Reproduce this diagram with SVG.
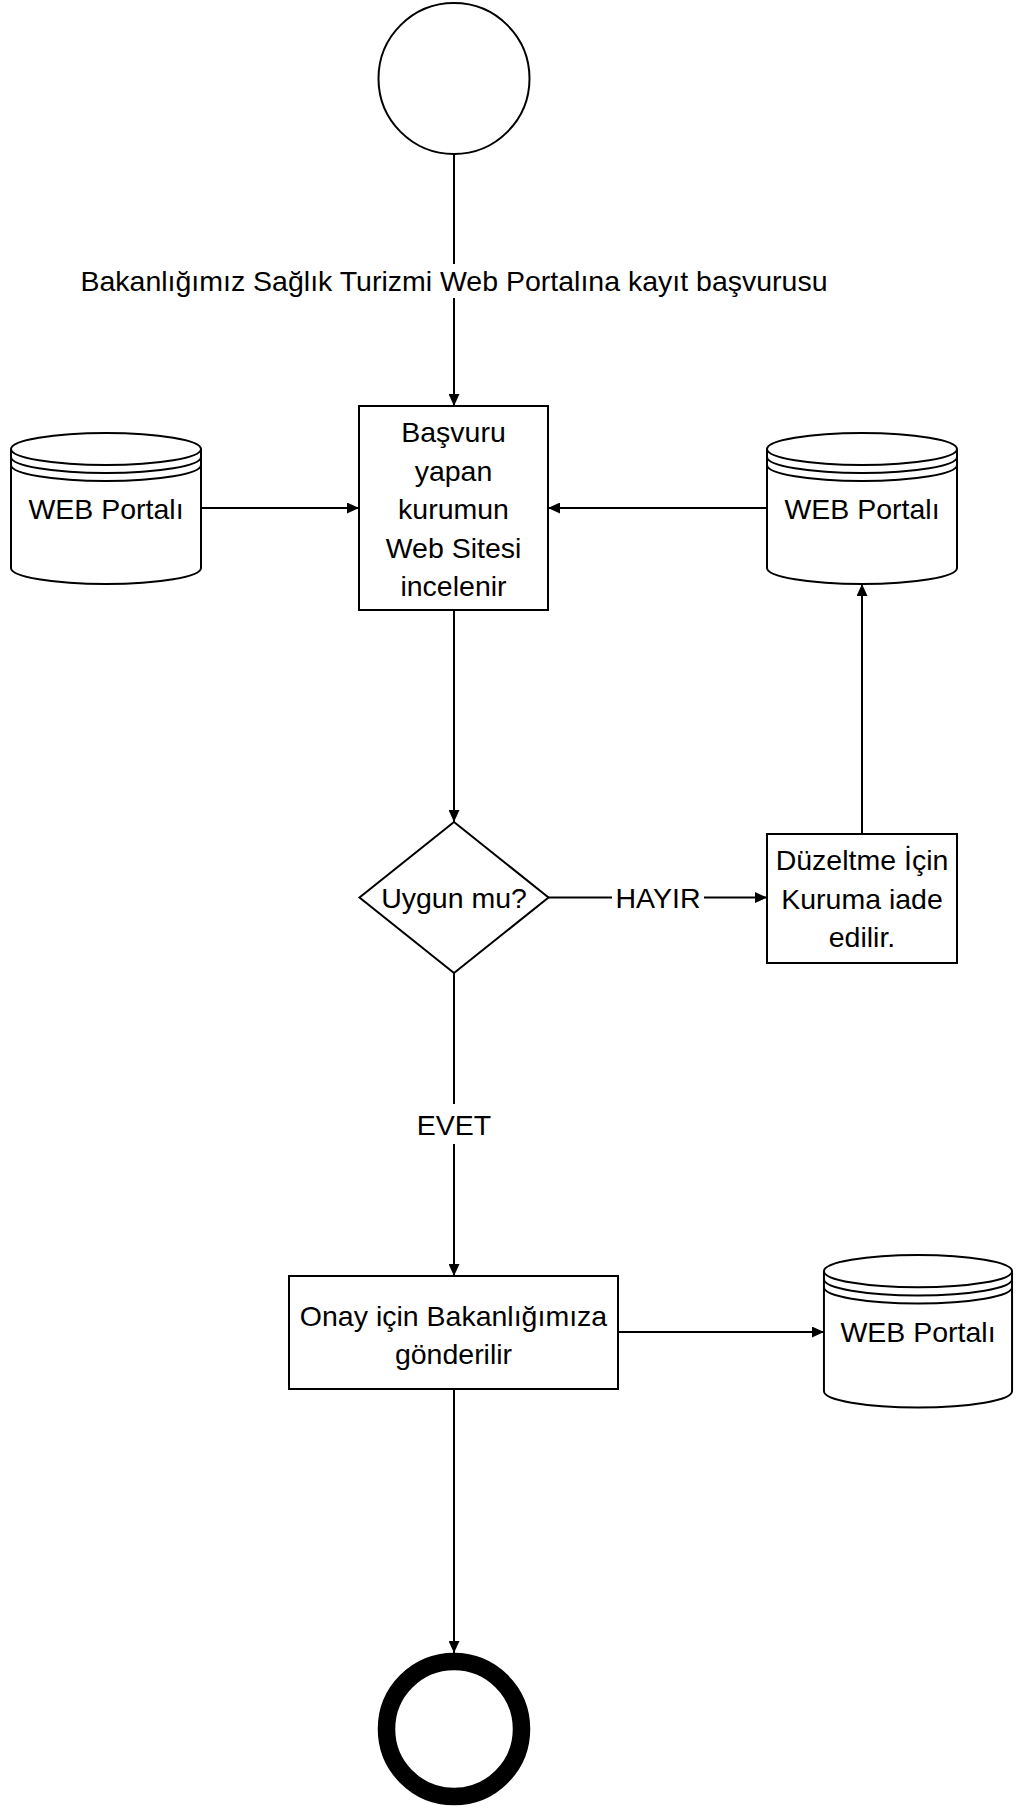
<svg xmlns="http://www.w3.org/2000/svg" width="1022" height="1810" viewBox="0 0 1022 1810">
<style>
.s{fill:#fff;stroke:#000;stroke-width:2}
.c{fill:none;stroke:#000;stroke-width:2}
.t{font-family:"Liberation Sans",Arial,sans-serif;font-size:28.5px;fill:#000;text-anchor:middle}
.bg{fill:#fff;stroke:none}
</style>
<defs>
<marker id="ah" markerWidth="12" markerHeight="11" refX="12" refY="5.5" orient="auto" markerUnits="userSpaceOnUse">
<path d="M0,0 L12,5.5 L0,11 z" fill="#000"/>
</marker>
<g id="cyl">
<path class="s" d="M-95,16 A95,16 0 0 1 95,16 L95,135 A95,16 0 0 1 -95,135 Z"/>
<path class="c" d="M-95,16 A95,16 0 0 0 95,16 M-95,24 A95,16 0 0 0 95,24 M-95,32 A95,16 0 0 0 95,32"/>
</g>
</defs>
<rect width="1022" height="1810" fill="#fff"/>

<g id="connectors">
<path class="c" d="M454,154 L454,406" marker-end="url(#ah)"/>
<rect class="bg" x="78" y="264" width="752" height="34"/>
<text class="t" x="454" y="291">Bakanlığımız Sağlık Turizmi Web Portalına kayıt başvurusu</text>
<path class="c" d="M201,508 L359,508" marker-end="url(#ah)"/>
<path class="c" d="M767,508 L548,508" marker-end="url(#ah)"/>
<path class="c" d="M454,610 L454,822" marker-end="url(#ah)"/>
<path class="c" d="M548,897.5 L767,897.5" marker-end="url(#ah)"/>
<rect class="bg" x="612" y="882" width="92" height="32"/>
<text class="t" x="658" y="908">HAYIR</text>
<path class="c" d="M862,834 L862,584" marker-end="url(#ah)"/>
<path class="c" d="M454,973 L454,1276" marker-end="url(#ah)"/>
<rect class="bg" x="410" y="1104" width="88" height="40"/>
<text class="t" x="454" y="1135">EVET</text>
<path class="c" d="M618,1332 L824,1332" marker-end="url(#ah)"/>
<path class="c" d="M454,1389 L454,1653" marker-end="url(#ah)"/>
</g>

<g id="start">
<circle class="s" cx="454" cy="78.5" r="75.5"/>
</g>

<g id="box1">
<rect class="s" x="359" y="406" width="189" height="204"/>
<text class="t" x="453.5" y="442">Başvuru</text>
<text class="t" x="453.5" y="480.5">yapan</text>
<text class="t" x="453.5" y="519">kurumun</text>
<text class="t" x="453.5" y="557.5">Web Sitesi</text>
<text class="t" x="453.5" y="596">incelenir</text>
</g>

<g id="portal-left">
<use href="#cyl" transform="translate(106,433)"/>
<text class="t" x="106" y="518.5">WEB Portalı</text>
</g>

<g id="portal-right">
<use href="#cyl" transform="translate(862,433)"/>
<text class="t" x="862" y="518.5">WEB Portalı</text>
</g>

<g id="decision">
<polygon class="s" points="454,822 548.5,897.5 454,973 359.5,897.5"/>
<text class="t" x="454" y="908">Uygun mu?</text>
</g>

<g id="duzeltme">
<rect class="s" x="767" y="834" width="190" height="129"/>
<text class="t" x="862" y="870">Düzeltme İçin</text>
<text class="t" x="862" y="909">Kuruma iade</text>
<text class="t" x="862" y="947">edilir.</text>
</g>

<g id="onay">
<rect class="s" x="289" y="1276" width="329" height="113"/>
<text class="t" x="453.5" y="1326">Onay için Bakanlığımıza</text>
<text class="t" x="453.5" y="1364">gönderilir</text>
</g>

<g id="portal-bottom">
<use href="#cyl" transform="translate(918,1255) scale(0.99,1.01)"/>
<text class="t" x="918" y="1342">WEB Portalı</text>
</g>

<g id="end">
<circle cx="454" cy="1729" r="67.5" fill="#fff" stroke="#000" stroke-width="17.5"/>
</g>
</svg>
